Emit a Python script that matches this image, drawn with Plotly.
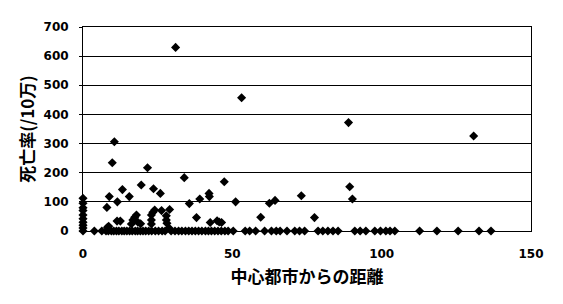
import plotly.graph_objects as go

# nonzero observations
dist_nz = [0, 0, 0, 0, 0, 0, 0, 0, 0,
           31.0, 53.1, 10.5, 9.8, 21.6, 33.9, 47.3, 19.5, 13.2, 23.6, 25.9, 8.8, 15.5,
           42.2, 42.3, 39.1, 11.5, 35.6, 51.1, 8.0, 24.0, 23.4, 26.3, 29.0, 22.9, 22.9,
           22.9, 17.9, 17.3, 16.7, 27.9, 27.9, 28.1, 38.0, 11.4, 12.5, 18.4, 19.3, 16.2,
           42.6, 44.9, 45.6, 46.4, 59.5, 62.4, 64.3, 8.2, 8.6, 28.8, 73.1, 77.5, 88.9,
           130.8, 89.3, 90.2]
rate_nz = [112, 95, 80, 70, 55, 42, 30, 20, 10,
           630, 457, 306, 234, 217, 183, 169, 158, 142, 145, 129, 118, 118,
           129, 118, 110, 100, 94, 100, 81, 72, 64, 70, 74, 55, 38,
           24, 55, 47, 38, 52, 38, 27, 46, 34, 34, 30, 25, 24,
           29, 35, 31, 29, 47, 95, 105, 13, 16, 10, 121, 46, 372,
           326, 152, 110]

# zero-rate observations
dist_zero = [0, 3.8, 6.3, 7.7, 8.5, 9.5, 10.3, 11.2, 12.0, 13.0, 13.8, 14.7, 15.6, 16.5,
             17.5, 18.3, 19.2, 20.1, 21.0, 22.0, 23.0, 24.2, 25.3, 26.5, 27.5, 29.5,
             30.8, 32.0, 33.1, 34.3, 35.4, 36.5, 37.6, 38.7, 39.8, 41.0, 42.0, 43.0,
             44.1, 45.2, 46.3, 47.5, 48.6, 50.3, 54.3, 55.8, 57.8, 60.8, 63.1, 64.7,
             66.0, 68.3, 70.9, 72.5, 74.2, 78.7, 80.3, 82.0, 83.7, 85.4, 91.0, 92.8,
             94.7, 97.7, 99.6, 101.4, 102.8, 104.4, 112.7, 118.5, 125.6, 132.6, 136.6]
rate_zero = [0] * len(dist_zero)

x_ticks = [0, 50, 100, 150]
y_ticks = [0, 100, 200, 300, 400, 500, 600, 700]

x_title = "中心都市からの距離"
y_title = "死亡率(/10万)"

fig = go.Figure()
fig.add_trace(go.Scatter(
    x=dist_nz + dist_zero, y=rate_nz + rate_zero, mode="markers",
    marker=dict(symbol="diamond", size=7, color="black", line=dict(width=0)),
    cliponaxis=False, showlegend=False))

tickfont = dict(family="DejaVu Sans", size=12, color="black", weight="bold")
titlefont = dict(family="Noto Sans CJK JP", size=17, color="black", weight="bold")

fig.update_layout(
    width=563, height=304,
    margin=dict(l=83, r=32, t=27, b=73),
    paper_bgcolor="white", plot_bgcolor="white",
    xaxis=dict(range=[0, 150], tickvals=x_ticks, ticktext=[str(v) for v in x_ticks],
               showgrid=False, zeroline=False, showline=True, linecolor="black",
               linewidth=1, mirror=True, ticks="inside", ticklen=3, tickcolor="black",
               tickfont=tickfont, ticklabelstandoff=12,
               title=dict(text=x_title, font=titlefont, standoff=10)),
    yaxis=dict(range=[0, 700], tickvals=y_ticks, ticktext=[str(v) for v in y_ticks],
               showgrid=True, gridcolor="black", gridwidth=1, zeroline=False,
               showline=True, linecolor="black", linewidth=1, mirror=True,
               ticks="outside", ticklen=3, tickcolor="black",
               tickfont=tickfont, ticklabelstandoff=8,
               title=dict(text=y_title, font=titlefont, standoff=4)),
)

fig.write_html("out.html")
